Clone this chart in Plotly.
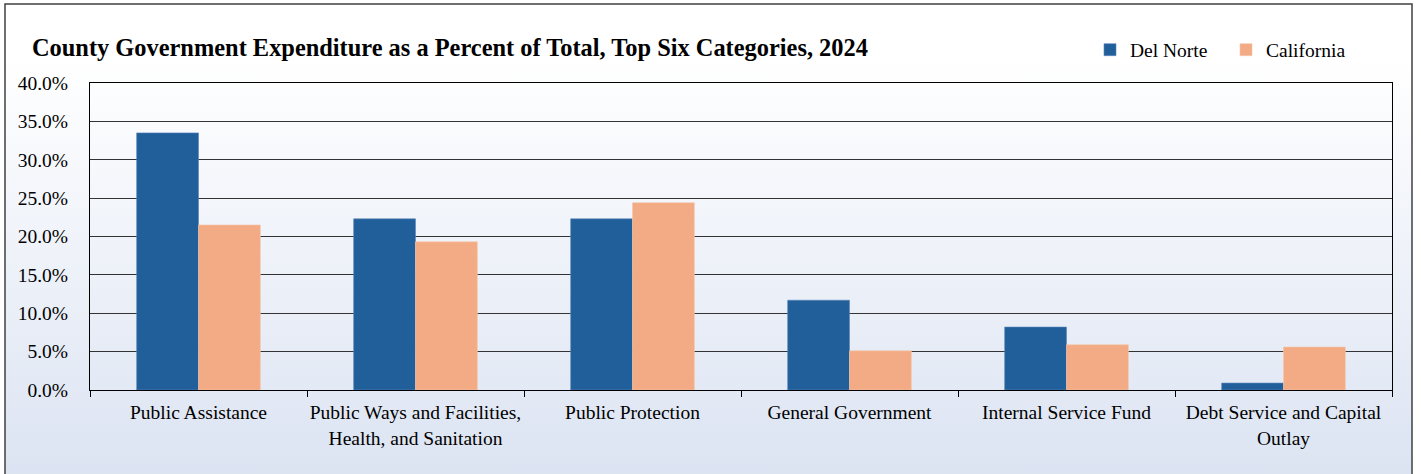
import base64
import plotly.graph_objects as go

categories = [
    "Public Assistance",
    "Public Ways and Facilities,<br>Health, and Sanitation",
    "Public Protection",
    "General Government",
    "Internal Service Fund",
    "Debt Service and Capital<br>Outlay",
]
del_norte = [33.5, 22.3, 22.3, 11.7, 8.2, 0.9]
california = [21.5, 19.3, 24.4, 5.1, 5.9, 5.6]
series_names = ["Del Norte", "California"]
y_ticks = [0, 5, 10, 15, 20, 25, 30, 35, 40]
y_tick_labels = ["0.0%", "5.0%", "10.0%", "15.0%", "20.0%", "25.0%", "30.0%", "35.0%", "40.0%"]

W, H = 1421, 474
L, R, T, B = 90, 29, 83, 84
pw, ph = W - L - R, H - T - B
FX0, FX1, FY0 = 5, 1412, 4


def px_x(px):
    return (px - L) / pw


def px_y(py):
    return (H - B - py) / ph


svg = (
    '<svg xmlns="http://www.w3.org/2000/svg" width="100" height="100" preserveAspectRatio="none">'
    '<defs><linearGradient id="g" x1="0" y1="0" x2="0" y2="1">'
    '<stop offset="0" stop-color="#ffffff"/><stop offset="0.12" stop-color="#ffffff"/>'
    '<stop offset="1" stop-color="#dbe3f2"/></linearGradient></defs>'
    '<rect width="100" height="100" fill="url(#g)"/></svg>'
)
src = "data:image/svg+xml;base64," + base64.b64encode(svg.encode()).decode()

serif = "Liberation Serif, Times New Roman, serif"
font = dict(family=serif, size=19.5, color="#000000")

fig = go.Figure()
fig.add_trace(go.Bar(name=series_names[0], x=categories, y=del_norte,
                     marker=dict(color="#215f9b", line=dict(color="#5b86b8", width=0.6))))
fig.add_trace(go.Bar(name=series_names[1], x=categories, y=california,
                     marker=dict(color="#f2ab84", line=dict(color="#f6c6aa", width=0.6))))

fig.update_layout(
    width=W, height=H,
    margin=dict(l=L, r=R, t=T, b=B, autoexpand=False),
    paper_bgcolor="#ffffff",
    plot_bgcolor="rgba(0,0,0,0)",
    barmode="group", bargap=0.43, bargroupgap=0.0,
    font=font,
    title=dict(text="<b>County Government Expenditure as a Percent of Total, Top Six Categories, 2024</b>",
               x=32 / W, xref="container", xanchor="left",
               y=1 - 47 / H, yref="container", yanchor="middle",
               font=dict(family=serif, size=24.4, color="#000000")),
    legend=dict(orientation="h", x=px_x(1090), y=px_y(50), xanchor="left", yanchor="middle",
                bgcolor="rgba(0,0,0,0)", font=font, itemwidth=30, entrywidth=91,
                traceorder="normal"),
    images=[dict(source=src, xref="paper", yref="paper", x=px_x(FX0), y=px_y(FY0),
                 sizex=(FX1 - FX0) / pw, sizey=(H + 10 - FY0) / ph, xanchor="left", yanchor="top",
                 sizing="stretch", layer="below")],
    shapes=[dict(type="rect", xref="paper", yref="paper",
                 x0=px_x(FX0), x1=px_x(FX1), y0=px_y(H + 10), y1=px_y(FY0),
                 line=dict(color="#404040", width=1.5), fillcolor="rgba(0,0,0,0)", layer="above")],
)
fig.update_xaxes(showline=True, linecolor="#000000", linewidth=1, mirror=True,
                 ticks="outside", tickson="boundaries", ticklen=6, tickcolor="#000000",
                 showgrid=False, tickfont=font, ticklabelstandoff=5, tickangle=0,
                 automargin=False)
fig.update_yaxes(range=[0, 40], tickvals=y_ticks, ticktext=y_tick_labels,
                 showline=True, linecolor="#000000", linewidth=1, mirror=True,
                 showgrid=True, gridcolor="#333333", gridwidth=1, zeroline=False,
                 ticks="", ticklabelstandoff=17, tickfont=font, automargin=False)

fig.write_html("out.html", config={"displayModeBar": False},
               post_script="document.body.style.margin='0';document.body.style.overflow='hidden';")
